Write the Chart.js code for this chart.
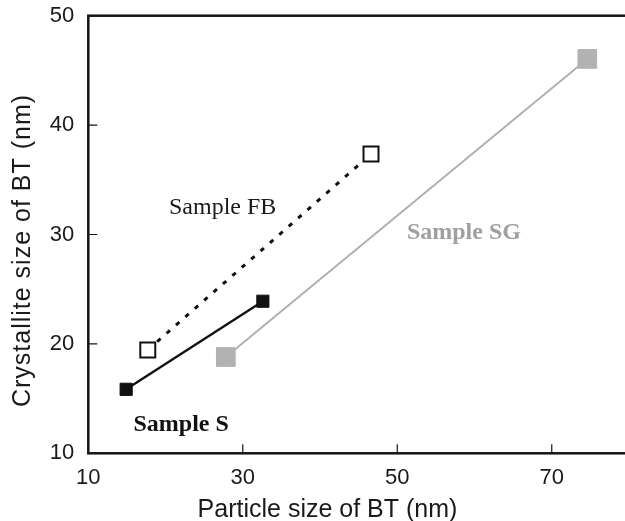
<!DOCTYPE html>
<html>
<head>
<meta charset="utf-8">
<script src="https://cdn.jsdelivr.net/npm/chart.js@4/dist/chart.umd.min.js"></script>
<style>
  html, body { margin: 0; padding: 0; background: #fff; overflow: hidden; }
  #wrap { position: relative; width: 629px; height: 521px; }
</style>
</head>
<body>
<div id="wrap"><canvas id="c" width="629" height="521"></canvas></div>
<script>
// Tick values
const xTickValues = [10, 30, 50, 70];
const yTickValues = [10, 20, 30, 40, 50];

// Particle size (x) vs crystallite size (y), nm
const sampleSParticle = [14.9, 32.6];
const sampleSCrystal  = [15.85, 23.9];
const sampleFBParticle = [17.7, 46.6];
const sampleFBCrystal  = [19.45, 37.35];
const sampleSGParticle = [27.8, 74.6];
const sampleSGCrystal  = [18.8, 46.05];

const seriesNames = ['Sample S', 'Sample FB', 'Sample SG'];

const xTitle = 'Particle size of BT (nm)';
const yTitle = 'Crystallite size of BT (nm)';

const pairs = (xs, ys) => xs.map((v, i) => ({ x: v, y: ys[i] }));

// Series labels placed in data coordinates
const seriesLabels = [
  { text: seriesNames[1], x: 20.45, y: 31.85, weight: 'normal', color: '#1a1a1a' },
  { text: seriesNames[2], x: 51.25, y: 29.55, weight: 'bold', color: '#a0a0a0' },
  { text: seriesNames[0], x: 15.85, y: 12.05, weight: 'bold', color: '#111111' }
];

const framePlugin = {
  id: 'frame',
  beforeDatasetsDraw(chart) {
    const { ctx, chartArea: a, scales: { x, y } } = chart;
    ctx.save();
    ctx.strokeStyle = '#141414';
    ctx.lineWidth = 2.5;
    ctx.lineJoin = 'miter';
    ctx.strokeRect(a.left, a.top, a.right - a.left, a.bottom - a.top);
    // inward tick marks
    ctx.lineWidth = 1.2;
    ctx.beginPath();
    x.ticks.forEach(t => {
      if (t.value === x.min || t.value === x.max) return;
      const px = x.getPixelForValue(t.value);
      ctx.moveTo(px, a.bottom);
      ctx.lineTo(px, a.bottom - 9);
    });
    y.ticks.forEach(t => {
      if (t.value === y.min || t.value === y.max) return;
      const py = y.getPixelForValue(t.value);
      ctx.moveTo(a.left, py);
      ctx.lineTo(a.left + 9, py);
    });
    ctx.stroke();
    ctx.restore();
  },
  afterDatasetsDraw(chart) {
    const { ctx, scales: { x, y } } = chart;
    ctx.save();
    // series labels
    ctx.textAlign = 'left';
    ctx.textBaseline = 'alphabetic';
    seriesLabels.forEach(l => {
      ctx.font = l.weight + ' 24px "Liberation Serif", "Times New Roman", serif';
      ctx.fillStyle = l.color;
      ctx.fillText(l.text, x.getPixelForValue(l.x), y.getPixelForValue(l.y));
    });
    // axis titles
    ctx.fillStyle = '#1a1a1a';
    ctx.font = '25px "Liberation Sans", Arial, sans-serif';
    ctx.textAlign = 'center';
    ctx.fillText(xTitle, 327.5, 516.5);
    ctx.translate(30, 250.5);
    ctx.rotate(-Math.PI / 2);
    if ('letterSpacing' in ctx) ctx.letterSpacing = '1px';
    ctx.fillText(yTitle, 0, 0);
    ctx.restore();
  }
};

const tickFont = { family: '"Liberation Sans", Arial, sans-serif', size: 22 };

new Chart(document.getElementById('c'), {
  type: 'scatter',
  data: {
    datasets: [
      {
        label: seriesNames[2],
        data: pairs(sampleSGParticle, sampleSGCrystal),
        showLine: true,
        borderColor: '#b0b0b0',
        borderWidth: 2,
        pointStyle: 'rect',
        pointRadius: 13.2,
        pointBackgroundColor: '#b2b2b2',
        pointBorderColor: '#b2b2b2',
        pointBorderWidth: 1
      },
      {
        label: seriesNames[0],
        data: pairs(sampleSParticle, sampleSCrystal),
        showLine: true,
        borderColor: '#111111',
        borderWidth: 2.3,
        pointStyle: 'rect',
        pointRadius: 8.6,
        pointBackgroundColor: '#111111',
        pointBorderColor: '#111111',
        pointBorderWidth: 1
      },
      {
        label: seriesNames[1],
        data: pairs(sampleFBParticle, sampleFBCrystal),
        showLine: true,
        borderColor: '#111111',
        borderWidth: 3,
        borderDash: [4.5, 8],
        pointStyle: 'rect',
        pointRadius: 10.6,
        pointBackgroundColor: '#ffffff',
        pointBorderColor: '#111111',
        pointBorderWidth: 2
      }
    ]
  },
  options: {
    responsive: false,
    animation: false,
    devicePixelRatio: 1,
    layout: { autoPadding: false, padding: { top: 15.7, right: 0, bottom: 0, left: 0 } },
    plugins: { legend: { display: false }, tooltip: { enabled: false } },
    scales: {
      x: {
        type: 'linear',
        min: 10,
        max: 80,
        afterBuildTicks(s) { s.ticks = xTickValues.map(v => ({ value: v })); },
        afterFit(s) { s.height = 67.7; s.paddingLeft = 0; s.paddingRight = 0; },
        grid: { display: false, drawTicks: false },
        border: { display: false },
        ticks: { font: tickFont, color: '#1a1a1a', padding: 11, maxRotation: 0, autoSkip: false }
      },
      y: {
        type: 'linear',
        min: 10,
        max: 50,
        afterBuildTicks(s) { s.ticks = yTickValues.map(v => ({ value: v })); },
        afterFit(s) { s.width = 88.3; s.paddingTop = 0; s.paddingBottom = 0; },
        grid: { display: false, drawTicks: false },
        border: { display: false },
        ticks: { font: tickFont, color: '#1a1a1a', padding: 14, autoSkip: false }
      }
    }
  },
  plugins: [framePlugin]
});
</script>
</body>
</html>
